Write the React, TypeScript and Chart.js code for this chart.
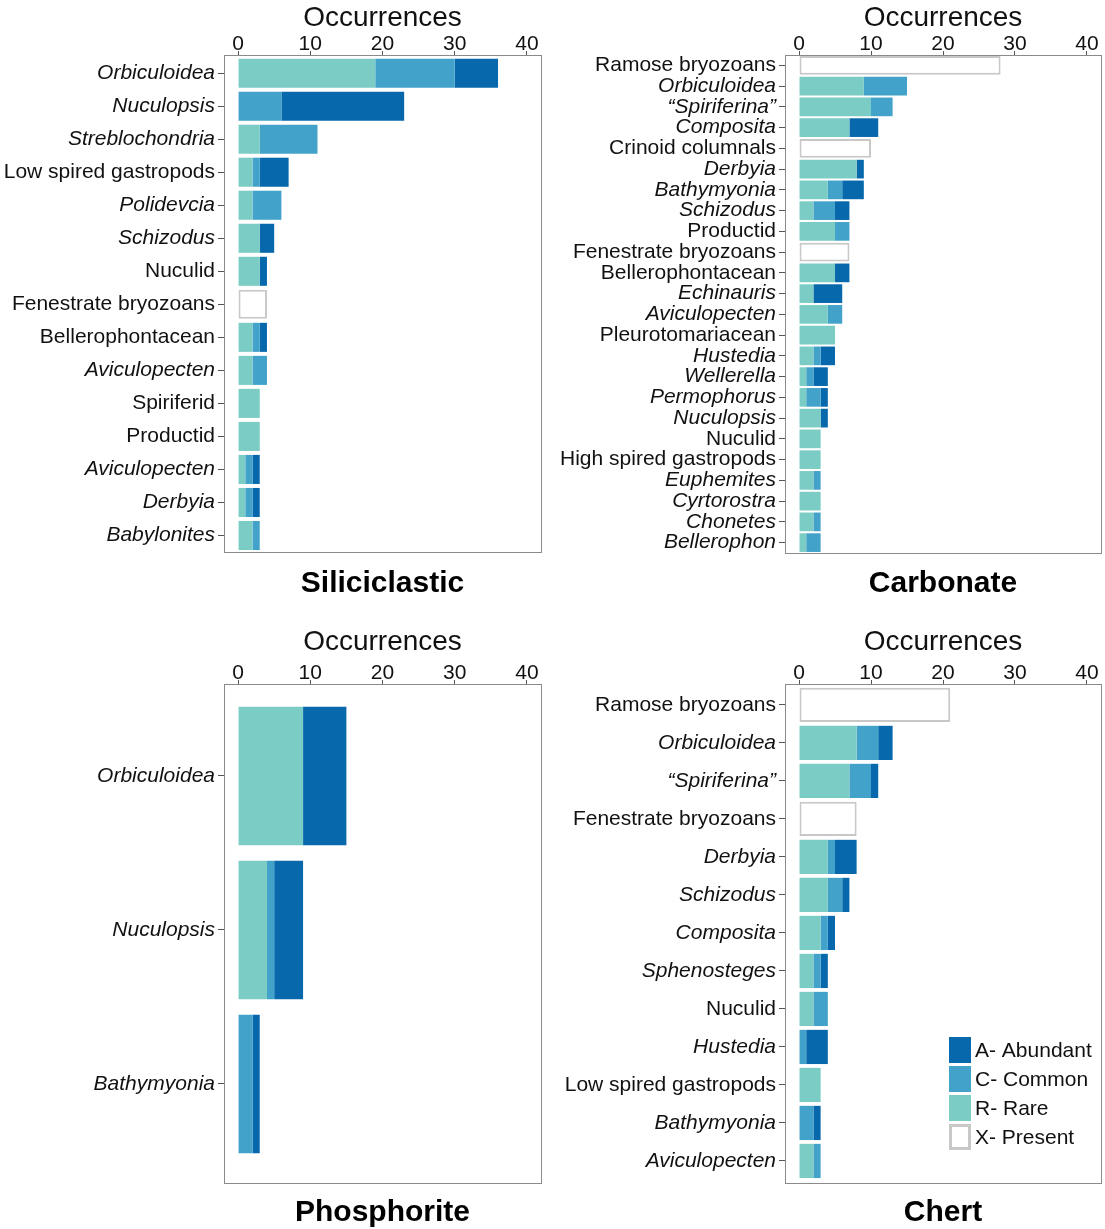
import React, { useEffect, useRef } from 'react';
import { Chart, registerables, CategoryScale } from 'chart.js';

Chart.register(...registerables);

class PaddedCategoryScale extends CategoryScale {
  static id = 'paddedCategory';
  static defaults = (CategoryScale as any).defaults;
  buildTicks() {
    const ticks = (CategoryScale.prototype as any).buildTicks.call(this);
    const pad = ((this.options as any).edgePad || [0, 0]) as number[];
    (this as any)._startValue -= pad[0];
    (this as any)._valueRange += pad[0] + pad[1];
    return ticks;
  }
}
Chart.register(PaddedCategoryScale as any);

const FONT = '"Liberation Sans", Arial, Helvetica, sans-serif';
Chart.defaults.font.family = FONT;
Chart.defaults.color = '#111';

// ---------- data ----------
const xTickValues = [0, 10, 20, 30, 40];
const seriesNames = ['R- Rare', 'C- Common', 'A- Abundant', 'X- Present'];
const legendOrder = [2, 1, 0, 3];

// Siliciclastic
const siliLabels = ['Orbiculoidea', 'Nuculopsis', 'Streblochondria', 'Low spired gastropods', 'Polidevcia', 'Schizodus', 'Nuculid', 'Fenestrate bryozoans', 'Bellerophontacean', 'Aviculopecten', 'Spiriferid', 'Productid', 'Aviculopecten', 'Derbyia', 'Babylonites'];
const siliRare = [19, 0, 3, 2, 2, 3, 3, 0, 2, 2, 3, 3, 1, 1, 2];
const siliCommon = [11, 6, 8, 1, 4, 0, 0, 0, 1, 2, 0, 0, 1, 1, 1];
const siliAbundant = [6, 17, 0, 4, 0, 2, 1, 0, 1, 0, 0, 0, 1, 1, 0];
const siliPresent = [0, 0, 0, 0, 0, 0, 0, 4, 0, 0, 0, 0, 0, 0, 0];

// Carbonate
const carbLabels = ['Ramose bryozoans', 'Orbiculoidea', '\u201CSpiriferina\u201D', 'Composita', 'Crinoid columnals', 'Derbyia', 'Bathymyonia', 'Schizodus', 'Productid', 'Fenestrate bryozoans', 'Bellerophontacean', 'Echinauris', 'Aviculopecten', 'Pleurotomariacean', 'Hustedia', 'Wellerella', 'Permophorus', 'Nuculopsis', 'Nuculid', 'High spired gastropods', 'Euphemites', 'Cyrtorostra', 'Chonetes', 'Bellerophon'];
const carbRare = [0, 9, 10, 7, 0, 8, 4, 2, 5, 0, 5, 2, 4, 5, 2, 1, 1, 3, 3, 3, 2, 3, 2, 1];
const carbCommon = [0, 6, 3, 0, 0, 0, 2, 3, 2, 0, 0, 0, 2, 0, 1, 1, 2, 0, 0, 0, 1, 0, 1, 2];
const carbAbundant = [0, 0, 0, 4, 0, 1, 3, 2, 0, 0, 2, 4, 0, 0, 2, 2, 1, 1, 0, 0, 0, 0, 0, 0];
const carbPresent = [28, 0, 0, 0, 10, 0, 0, 0, 0, 7, 0, 0, 0, 0, 0, 0, 0, 0, 0, 0, 0, 0, 0, 0];

// Phosphorite
const phosLabels = ['Orbiculoidea', 'Nuculopsis', 'Bathymyonia'];
const phosRare = [9, 4, 0];
const phosCommon = [0, 1, 2];
const phosAbundant = [6, 4, 1];
const phosPresent = [0, 0, 0];

// Chert
const chertLabels = ['Ramose bryozoans', 'Orbiculoidea', '\u201CSpiriferina\u201D', 'Fenestrate bryozoans', 'Derbyia', 'Schizodus', 'Composita', 'Sphenosteges', 'Nuculid', 'Hustedia', 'Low spired gastropods', 'Bathymyonia', 'Aviculopecten'];
const chertRare = [0, 8, 7, 0, 4, 4, 3, 2, 2, 0, 3, 0, 2];
const chertCommon = [0, 3, 3, 0, 1, 2, 1, 1, 2, 1, 0, 2, 1];
const chertAbundant = [0, 2, 1, 0, 3, 1, 1, 1, 0, 3, 0, 1, 0];
const chertPresent = [21, 0, 0, 8, 0, 0, 0, 0, 0, 0, 0, 0, 0];

// ---------- styles ----------
const uprightLabels = new Set(['Low spired gastropods', 'Nuculid', 'Fenestrate bryozoans', 'Bellerophontacean', 'Spiriferid', 'Productid', 'Ramose bryozoans', 'Crinoid columnals', 'Pleurotomariacean', 'High spired gastropods']);
const RARE = '#7bccc4';
const COMMON = '#43a2ca';
const ABUNDANT = '#0868ac';
const PRESENT_BORDER = '#c8c8c8';

const framePlugin = {
  id: 'frame',
  afterDatasetsDraw(chart: any) {
    const { ctx, chartArea } = chart;
    ctx.save();
    ctx.strokeStyle = '#8a8a8a';
    ctx.lineWidth = 1;
    ctx.strokeRect(chartArea.left + 0.5, chartArea.top + 0.5, chartArea.right - chartArea.left, chartArea.bottom - chartArea.top);
    ctx.restore();
  },
};

const legendPlugin = {
  id: 'occLegend',
  afterDatasetsDraw(chart: any) {
    const { ctx, chartArea } = chart;
    const x0 = chartArea.right - 152;
    const y0 = chartArea.bottom - 146;
    legendOrder.forEach((di, i) => {
      const ds = chart.data.datasets[di];
      const y = y0 + i * 29;
      ctx.save();
      if (di === 3) {
        ctx.fillStyle = '#fff';
        ctx.fillRect(x0, y, 22, 26);
        ctx.strokeStyle = PRESENT_BORDER;
        ctx.lineWidth = 3;
        ctx.strokeRect(x0 + 1.5, y + 1.5, 19, 23);
      } else {
        ctx.fillStyle = ds.backgroundColor;
        ctx.fillRect(x0, y, 22, 26);
      }
      ctx.fillStyle = '#111';
      ctx.font = `21px ${FONT}`;
      ctx.textBaseline = 'middle';
      ctx.textAlign = 'left';
      ctx.fillText(ds.label, x0 + 26, y + 14);
      ctx.restore();
    });
  },
};

type PanelProps = {
  name: string;
  labels: string[];
  rare: number[];
  common: number[];
  abundant: number[];
  present: number[];
  left: number;
  top: number;
  w: number;
  h: number;
  yW: number;
  padR: number;
  topH: number;
  botH: number;
  titlePadB: number;
  edgePad: number[];
  barPct: number;
  legend?: boolean;
};

function Panel(p: PanelProps) {
  const ref = useRef<HTMLCanvasElement>(null);
  useEffect(() => {
    const nz = (arr: number[]) => arr.map((v) => (v === 0 ? null : v));
    const datasets: any[] = [
      { label: seriesNames[0], data: nz(p.rare), backgroundColor: RARE, borderWidth: 0 },
      { label: seriesNames[1], data: nz(p.common), backgroundColor: COMMON, borderWidth: 0 },
      { label: seriesNames[2], data: nz(p.abundant), backgroundColor: ABUNDANT, borderWidth: 0 },
      { label: seriesNames[3], data: nz(p.present), backgroundColor: '#ffffff', borderColor: PRESENT_BORDER, borderWidth: 2, borderSkipped: false },
    ];
    const chart = new Chart(ref.current as HTMLCanvasElement, {
      type: 'bar',
      data: { labels: p.labels, datasets },
      options: {
        indexAxis: 'y',
        responsive: false,
        animation: false,
        layout: { padding: { left: 0, right: p.padR, top: 0, bottom: 0 } },
        datasets: { bar: { barPercentage: p.barPct, categoryPercentage: 1 } },
        plugins: {
          legend: { display: false },
          tooltip: { enabled: false },
          title: { display: false },
        },
        scales: {
          x: {
            type: 'linear',
            position: 'top',
            stacked: true,
            min: -1.95,
            max: 41.95,
            afterBuildTicks: (s: any) => {
              s.ticks = xTickValues.map((v) => ({ value: v }));
            },
            afterFit: (s: any) => {
              s.height = p.topH;
            },
            ticks: { font: { size: 21, lineHeight: 1.2 }, padding: -6, maxRotation: 0, autoSkip: false, color: '#111' },
            grid: { display: true, drawOnChartArea: false, drawTicks: true, tickLength: 4, color: '#555' },
            border: { display: false },
            title: { display: true, text: 'Occurrences', font: { size: 28, lineHeight: 1.2 }, padding: { top: 1, bottom: 0 }, color: '#111' },
          },
          x2: {
            type: 'linear',
            axis: 'x',
            position: 'bottom',
            min: 0,
            max: 1,
            afterFit: (s: any) => {
              s.height = p.botH;
            },
            ticks: { display: false },
            grid: { display: false },
            border: { display: false },
            title: { display: true, text: p.name, font: { size: 30, weight: 'bold', lineHeight: 1.2 }, padding: { top: 0, bottom: p.titlePadB }, color: '#000' },
          },
          y: {
            type: 'paddedCategory',
            edgePad: p.edgePad,
            offset: true,
            stacked: true,
            afterFit: (s: any) => {
              s.width = p.yW;
            },
            ticks: {
              autoSkip: false,
              padding: 3,
              color: '#111',
              font: (ctx: any) => ({
                size: 21,
                family: FONT,
                lineHeight: 1.2,
                style: uprightLabels.has(p.labels[ctx.index]) ? 'normal' : 'italic',
              }),
            },
            grid: { display: true, drawOnChartArea: false, drawTicks: true, tickLength: 6, offset: false, color: '#555' },
            border: { display: false },
          } as any,
        },
      } as any,
      plugins: p.legend ? [framePlugin, legendPlugin] : [framePlugin],
    });
    return () => chart.destroy();
  }, []);
  return <canvas ref={ref} width={p.w} height={p.h} style={{ position: 'absolute', left: p.left, top: p.top, width: p.w, height: p.h }} />;
}

export default function App() {
  return (
    <div style={{ position: 'absolute', left: 0, top: 0, width: 1105, height: 1229, background: '#fff', overflow: 'hidden' }}>
      <Panel name="Siliciclastic" labels={siliLabels} rare={siliRare} common={siliCommon} abundant={siliAbundant} present={siliPresent}
        left={0} top={0} w={552} h={610} yW={224} padR={11} topH={55} botH={58} titlePadB={8} edgePad={[0.05, 0]} barPct={0.88} />
      <Panel name="Carbonate" labels={carbLabels} rare={carbRare} common={carbCommon} abundant={carbAbundant} present={carbPresent}
        left={552} top={0} w={553} h={610} yW={233} padR={4} topH={55} botH={57} titlePadB={8} edgePad={[0, 0]} barPct={0.9} />
      <Panel name="Phosphorite" labels={phosLabels} rare={phosRare} common={phosCommon} abundant={phosAbundant} present={phosPresent}
        left={0} top={624} w={552} h={607} yW={224} padR={11} topH={60} botH={48} titlePadB={0} edgePad={[0.097, 0.143]} barPct={0.9} />
      <Panel name="Chert" labels={chertLabels} rare={chertRare} common={chertCommon} abundant={chertAbundant} present={chertPresent}
        left={552} top={624} w={553} h={607} yW={233} padR={4} topH={60} botH={48} titlePadB={0} edgePad={[0.05, 0.08]} barPct={0.9} legend />
    </div>
  );
}
